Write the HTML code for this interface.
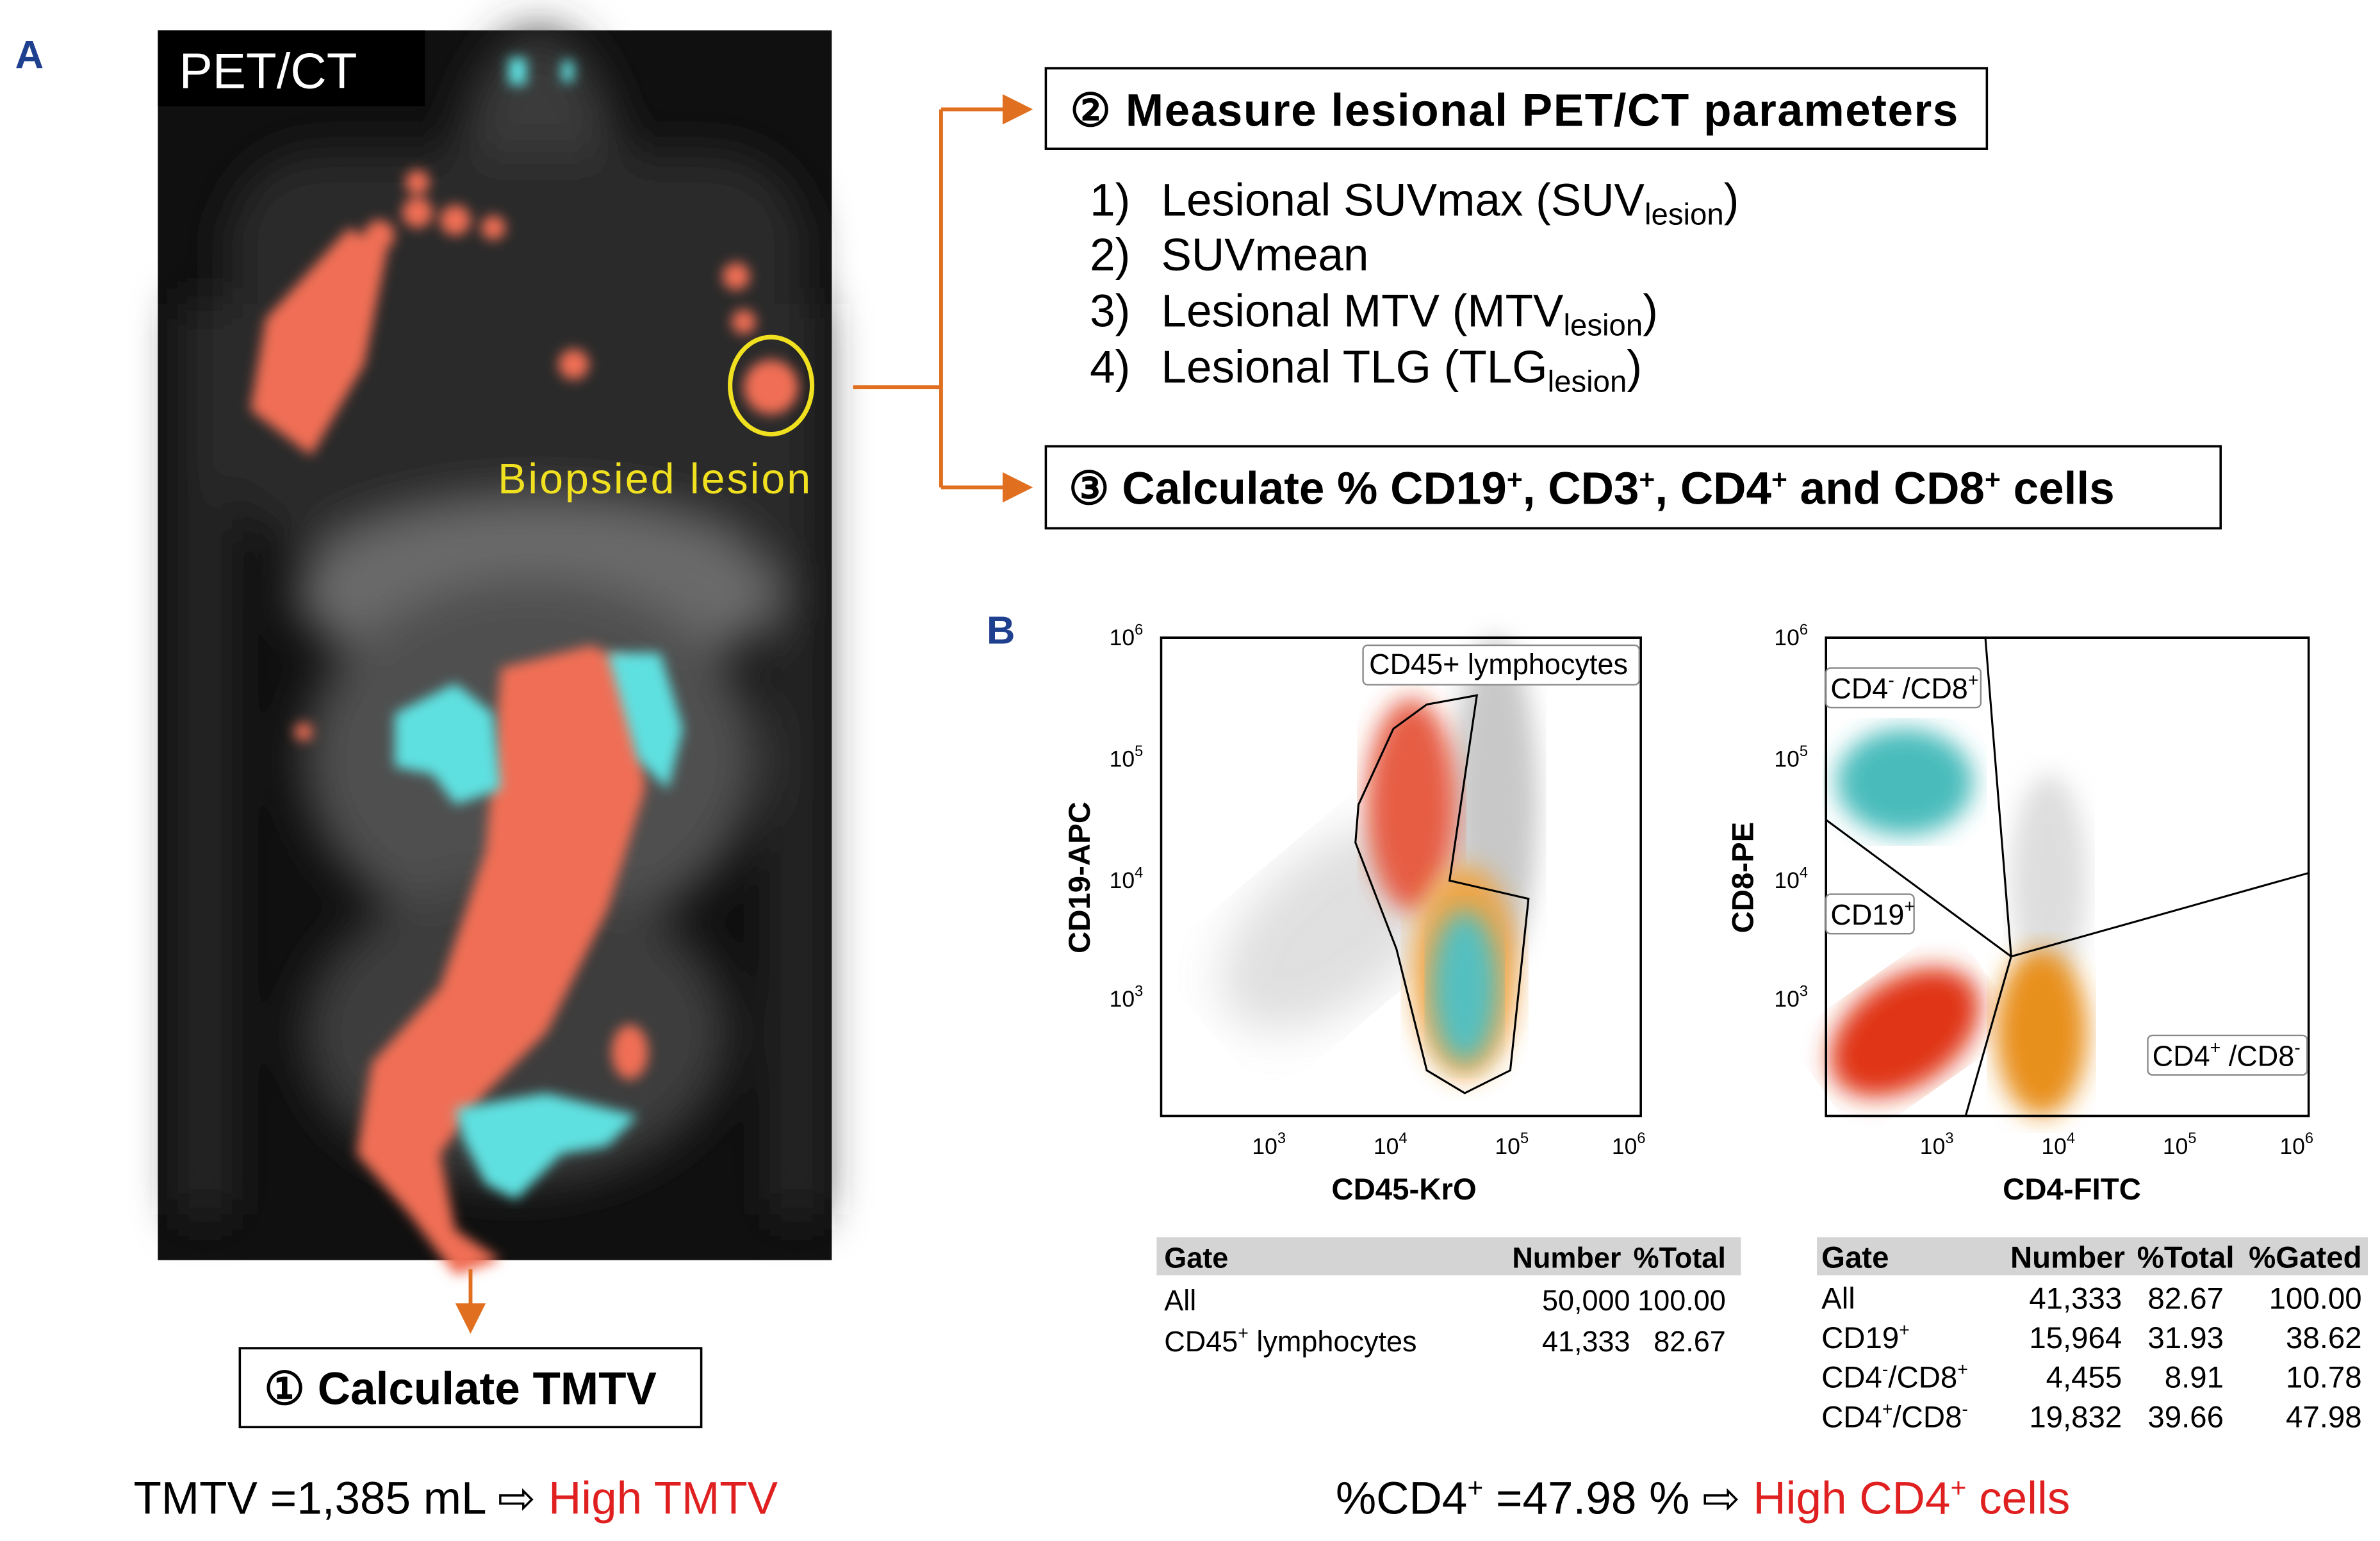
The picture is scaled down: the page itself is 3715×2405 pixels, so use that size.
<!DOCTYPE html>
<html><head><meta charset="utf-8"><style>
html,body{margin:0;padding:0;background:#fff;}
svg{display:block;font-family:"Liberation Sans",sans-serif;}
</style></head><body>
<svg width="3715" height="2405" viewBox="0 0 1568 1015" preserveAspectRatio="none">
<defs>
<filter id="b4"><feGaussianBlur stdDeviation="4"/></filter>
<filter id="b8"><feGaussianBlur stdDeviation="8"/></filter>
<filter id="b15"><feGaussianBlur stdDeviation="15"/></filter>
<marker id="ah" markerWidth="8" markerHeight="8" refX="7" refY="4" orient="auto"><path d="M0,0 L8,4 L0,8 z" fill="#e07020"/></marker>
</defs>
<text x="10" y="45" font-size="26" font-weight="bold" fill="#1f3f8f">A</text>
<g>
<rect x="104" y="20" width="444" height="810" fill="#101010"/>
<g filter="url(#b15)" fill="#4a4a4a">
<ellipse cx="355" cy="130" rx="55" ry="110" fill="#3a3a3a"/>
<rect x="150" y="100" width="380" height="260" rx="60" fill="#2a2a2a"/>
<ellipse cx="355" cy="390" rx="160" ry="60" fill="#6a6a6a"/>
<ellipse cx="350" cy="500" rx="150" ry="120" fill="#505050"/>
<ellipse cx="340" cy="680" rx="140" ry="100" fill="#3e3e3e"/>
<rect x="120" y="200" width="30" height="600" fill="#2a2a2a"/>
<rect x="510" y="200" width="30" height="600" fill="#2a2a2a"/>
</g>
<g fill="#f06e55" filter="url(#b4)">
<path d="M175,210 L230,150 L255,165 L240,240 L205,300 L165,270 Z"/>
<circle cx="275" cy="120" r="8"/><circle cx="275" cy="140" r="10"/><circle cx="300" cy="145" r="10"/><circle cx="325" cy="150" r="8"/><circle cx="250" cy="155" r="10"/>
<circle cx="485" cy="182" r="9"/><circle cx="490" cy="212" r="8"/><circle cx="508" cy="255" r="18"/>
<circle cx="378" cy="240" r="10"/><circle cx="200" cy="482" r="6"/>
<path d="M330,440 L390,425 L420,440 L425,520 L400,600 L360,680 L320,720 L290,760 L300,810 L330,830 L300,840 L270,800 L235,760 L245,700 L290,650 L320,560 Z"/>
<ellipse cx="415" cy="693" rx="12" ry="18"/>
</g>
<g fill="#5ee0e0" filter="url(#b4)">
<path d="M260,470 L300,450 L325,470 L330,520 L300,530 L285,510 L260,505 Z"/>
<path d="M400,430 L435,430 L450,480 L440,520 L420,500 Z"/>
<path d="M300,730 L360,720 L420,735 L400,755 L370,760 L340,790 L320,780 L305,750 Z"/>
<rect x="335" y="38" width="12" height="18"/><rect x="370" y="40" width="8" height="14"/>
</g>
<rect x="104" y="20" width="176" height="50" fill="#000"/>
<text x="118" y="58" font-size="33" fill="#fff">PET/CT</text>
<ellipse cx="508" cy="254" rx="27" ry="32" fill="none" stroke="#f0e020" stroke-width="3"/>
<text x="328" y="325" font-size="28" fill="#f0e020" textLength="206">Biopsied lesion</text>
</g>
<g stroke="#e07020" stroke-width="2.5" fill="none">
<path d="M562,255 L620,255 M620,72 L620,321"/>
<path d="M620,72 L678,72" marker-end="url(#ah)"/>
<path d="M620,321 L678,321" marker-end="url(#ah)"/>
<path d="M310,836 L310,876" marker-end="url(#ah)"/>
</g>
<g>
<rect x="689" y="45" width="620" height="53" fill="#fff" stroke="#000" stroke-width="1.5"/>
<text x="705" y="83" font-size="30" font-weight="bold" textLength="585">② Measure lesional PET/CT parameters</text>
</g>
<g font-size="30">
<text x="718" y="142">1)</text><text x="765" y="142">Lesional SUVmax (SUV<tspan font-size="20" dy="6">lesion</tspan><tspan dy="-6">)</tspan></text>
<text x="718" y="178">2)</text><text x="765" y="178">SUVmean</text>
<text x="718" y="215">3)</text><text x="765" y="215">Lesional MTV (MTV<tspan font-size="20" dy="6">lesion</tspan><tspan dy="-6">)</tspan></text>
<text x="718" y="252">4)</text><text x="765" y="252">Lesional TLG (TLG<tspan font-size="20" dy="6">lesion</tspan><tspan dy="-6">)</tspan></text>
</g>
<g>
<rect x="689" y="294" width="774" height="54" fill="#fff" stroke="#000" stroke-width="1.5"/>
<text x="704" y="332" font-size="30" font-weight="bold">③ Calculate % CD19<tspan font-size="18" dy="-10">+</tspan><tspan dy="10">,  CD3</tspan><tspan font-size="18" dy="-10">+</tspan><tspan dy="10">, CD4</tspan><tspan font-size="18" dy="-10">+</tspan><tspan dy="10"> and CD8</tspan><tspan font-size="18" dy="-10">+</tspan><tspan dy="10"> cells</tspan></text>
</g>
<g>
<rect x="158" y="888" width="304" height="52" fill="#fff" stroke="#000" stroke-width="1.5"/>
<text x="174" y="925" font-size="30" font-weight="bold">① Calculate TMTV</text>
</g>
<text x="650" y="424" font-size="26" font-weight="bold" fill="#1f3f8f">B</text>
<g>
<g opacity="0.8">
<ellipse cx="880" cy="610" rx="90" ry="50" fill="#c8c8c8" transform="rotate(-40 880 610)" filter="url(#b15)" opacity="0.7"/>
<ellipse cx="985" cy="530" rx="28" ry="110" fill="#bbb" filter="url(#b8)"/>
<ellipse cx="930" cy="530" rx="30" ry="70" fill="#e03518" filter="url(#b8)"/>
<ellipse cx="965" cy="640" rx="35" ry="70" fill="#e8901e" filter="url(#b8)"/>
<ellipse cx="965" cy="650" rx="22" ry="50" fill="#2ab0b0" filter="url(#b8)"/>
</g>
<polygon points="918,480 940,464 973,458 955,580 1007,592 995,705 965,720 940,705 920,625 893,555 895,530" fill="none" stroke="#000" stroke-width="1.3"/>
<path d="M765,420 L765,735 L1081,735 L1081,420 Z" fill="none" stroke="#000" stroke-width="1.5"/>
<rect x="898" y="425" width="182" height="26" rx="3" fill="#fff" stroke="#888"/>
<text x="902" y="444" font-size="19">CD45+ lymphocytes</text>
<g font-size="15" text-anchor="middle">
<text x="836" y="760">10<tspan font-size="10" dy="-7">3</tspan></text>
<text x="916" y="760">10<tspan font-size="10" dy="-7">4</tspan></text>
<text x="996" y="760">10<tspan font-size="10" dy="-7">5</tspan></text>
<text x="1073" y="760">10<tspan font-size="10" dy="-7">6</tspan></text>
<text x="742" y="425">10<tspan font-size="10" dy="-7">6</tspan></text>
<text x="742" y="505">10<tspan font-size="10" dy="-7">5</tspan></text>
<text x="742" y="585">10<tspan font-size="10" dy="-7">4</tspan></text>
<text x="742" y="663">10<tspan font-size="10" dy="-7">3</tspan></text>
</g>
<text x="925" y="790" font-size="20" text-anchor="middle" font-weight="bold">CD45-KrO</text>
<text transform="translate(718,578) rotate(-90)" font-size="20" text-anchor="middle" font-weight="bold">CD19-APC</text>
</g>
<g>
<ellipse cx="1350" cy="580" rx="25" ry="70" fill="#c8c8c8" filter="url(#b8)" opacity="0.6"/>
<ellipse cx="1255" cy="515" rx="45" ry="35" fill="#2ab0b0" filter="url(#b8)" opacity="0.85"/>
<ellipse cx="1255" cy="680" rx="55" ry="35" fill="#e03518" filter="url(#b8)" transform="rotate(-35 1255 680)"/>
<ellipse cx="1345" cy="680" rx="30" ry="55" fill="#e8901e" filter="url(#b8)"/>
<g stroke="#000" stroke-width="1.3" fill="none">
<path d="M1308,420 L1325,630 L1521,575 M1203,540 L1325,630 L1295,735"/>
</g>
<path d="M1203,420 L1203,735 L1521,735 L1521,420 Z" fill="none" stroke="#000" stroke-width="1.5"/>
<rect x="1203" y="440" width="102" height="26" rx="3" fill="#fff" stroke="#888"/>
<text x="1206" y="460" font-size="19">CD4<tspan font-size="12" dy="-8">-</tspan><tspan dy="8"> /CD8</tspan><tspan font-size="12" dy="-8">+</tspan></text>
<rect x="1203" y="589" width="58" height="26" rx="3" fill="#fff" stroke="#888"/>
<text x="1206" y="609" font-size="19">CD19<tspan font-size="12" dy="-8">+</tspan></text>
<rect x="1415" y="682" width="105" height="26" rx="3" fill="#fff" stroke="#888"/>
<text x="1418" y="702" font-size="19">CD4<tspan font-size="12" dy="-8">+</tspan><tspan dy="8"> /CD8</tspan><tspan font-size="12" dy="-8">-</tspan></text>
<g font-size="15" text-anchor="middle">
<text x="1276" y="760">10<tspan font-size="10" dy="-7">3</tspan></text>
<text x="1356" y="760">10<tspan font-size="10" dy="-7">4</tspan></text>
<text x="1436" y="760">10<tspan font-size="10" dy="-7">5</tspan></text>
<text x="1513" y="760">10<tspan font-size="10" dy="-7">6</tspan></text>
<text x="1180" y="425">10<tspan font-size="10" dy="-7">6</tspan></text>
<text x="1180" y="505">10<tspan font-size="10" dy="-7">5</tspan></text>
<text x="1180" y="585">10<tspan font-size="10" dy="-7">4</tspan></text>
<text x="1180" y="663">10<tspan font-size="10" dy="-7">3</tspan></text>
</g>
<text x="1365" y="790" font-size="20" text-anchor="middle" font-weight="bold">CD4-FITC</text>
<text transform="translate(1155,578) rotate(-90)" font-size="20" text-anchor="middle" font-weight="bold">CD8-PE</text>
</g>
<g font-size="19">
<rect x="762" y="815" width="385" height="25" fill="#d4d4d4"/>
<text x="767" y="835" font-weight="bold">Gate</text>
<text x="1068" y="835" text-anchor="end" font-weight="bold">Number</text>
<text x="1137" y="835" text-anchor="end" font-weight="bold">%Total</text>
<text x="767" y="863">All</text><text x="1074" y="863" text-anchor="end">50,000</text><text x="1137" y="863" text-anchor="end">100.00</text>
<text x="767" y="890">CD45<tspan font-size="12" dy="-8">+</tspan><tspan dy="8"> lymphocytes</tspan></text><text x="1074" y="890" text-anchor="end">41,333</text><text x="1137" y="890" text-anchor="end">82.67</text>
</g>
<g font-size="20">
<rect x="1197" y="815" width="363" height="25" fill="#d4d4d4"/>
<text x="1200" y="835" font-weight="bold">Gate</text>
<text x="1400" y="835" text-anchor="end" font-weight="bold">Number</text>
<text x="1472" y="835" text-anchor="end" font-weight="bold">%Total</text>
<text x="1556" y="835" text-anchor="end" font-weight="bold">%Gated</text>
<text x="1200" y="862">All</text><text x="1398" y="862" text-anchor="end">41,333</text><text x="1465" y="862" text-anchor="end">82.67</text><text x="1556" y="862" text-anchor="end">100.00</text>
<text x="1200" y="888">CD19<tspan font-size="12" dy="-8">+</tspan></text><text x="1398" y="888" text-anchor="end">15,964</text><text x="1465" y="888" text-anchor="end">31.93</text><text x="1556" y="888" text-anchor="end">38.62</text>
<text x="1200" y="914">CD4<tspan font-size="12" dy="-8">-</tspan><tspan dy="8">/CD8</tspan><tspan font-size="12" dy="-8">+</tspan></text><text x="1398" y="914" text-anchor="end">4,455</text><text x="1465" y="914" text-anchor="end">8.91</text><text x="1556" y="914" text-anchor="end">10.78</text>
<text x="1200" y="940">CD4<tspan font-size="12" dy="-8">+</tspan><tspan dy="8">/CD8</tspan><tspan font-size="12" dy="-8">-</tspan></text><text x="1398" y="940" text-anchor="end">19,832</text><text x="1465" y="940" text-anchor="end">39.66</text><text x="1556" y="940" text-anchor="end">47.98</text>
</g>
<text x="88" y="997" font-size="30">TMTV =1,385 mL ⇨ <tspan fill="#e02020">High TMTV</tspan></text>
<text x="880" y="997" font-size="30">%CD4<tspan font-size="18" dy="-11">+</tspan><tspan dy="11">   =47.98 % ⇨ </tspan><tspan fill="#e02020">High CD4</tspan><tspan fill="#e02020" font-size="18" dy="-11">+</tspan><tspan fill="#e02020" dy="11"> cells</tspan></text>
</svg>
</body></html>
